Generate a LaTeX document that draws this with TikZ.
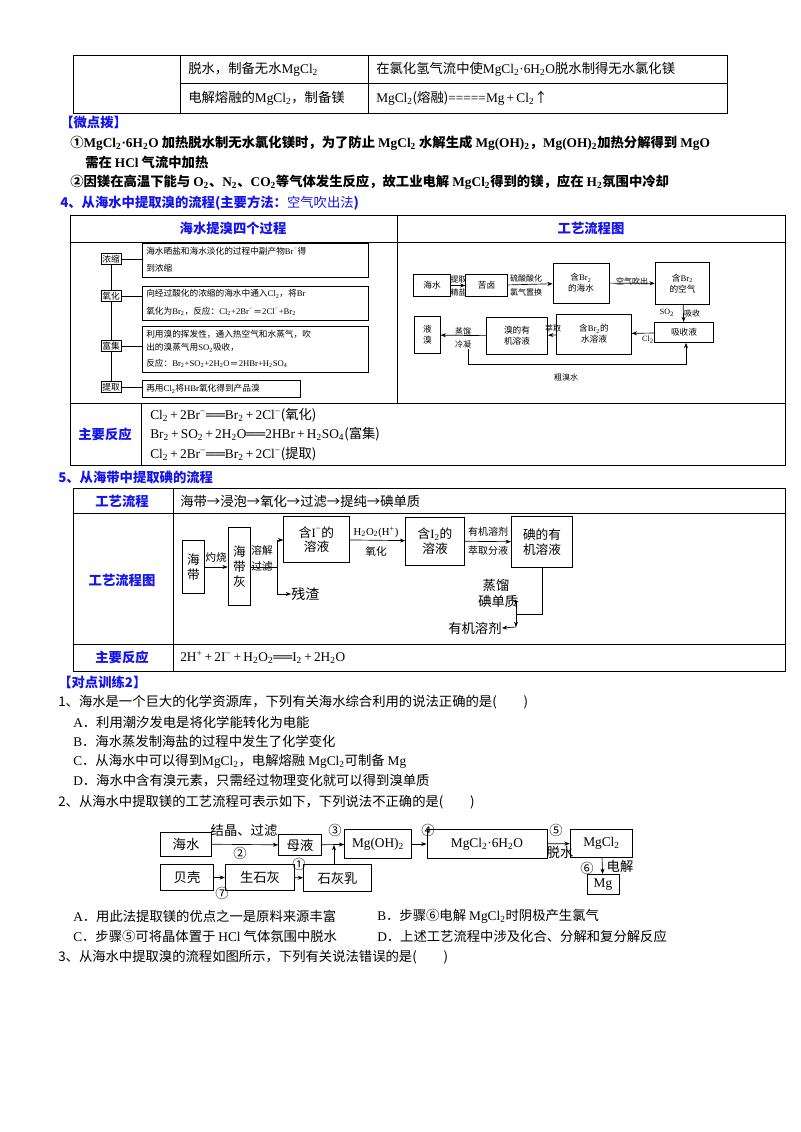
\documentclass[tikz,border=0pt]{standalone}
\usepackage{fontspec}
\setmainfont{Noto Sans CJK SC}
\newfontfamily\lt{Liberation Serif}
\usetikzlibrary{arrows.meta}
\newcommand\sub[1]{\textsubscript{#1}}
\newcommand\sups[1]{\textsuperscript{#1}}
\definecolor{bl}{RGB}{20,20,235}
\tikzset{
 t/.style={anchor=west,inner sep=0pt,font=\fontsize{10}{12}\selectfont},
 ts/.style={anchor=west,inner sep=0pt,font=\fontsize{6.5}{9}\selectfont},
 tc/.style={inner sep=0pt,font=\fontsize{6}{8}\selectfont},
 bx/.style={draw,line width=0.6pt,inner sep=1pt,font=\fontsize{6.5}{8}\selectfont,align=center},
 ib/.style={draw,line width=0.7pt,inner sep=1pt,font=\fontsize{9.5}{11}\selectfont,align=center},
 mb/.style={draw,line width=0.7pt,inner sep=1pt,font=\fontsize{10}{11}\selectfont,align=center},
 ar/.style={-{Stealth[length=4pt,width=3pt]},line width=0.5pt},
 tb/.style={line width=0.6pt},
 hd/.style={inner sep=0pt,font=\bfseries\fontsize{10}{12}\selectfont,text=bl},
}
\begin{document}
\begin{tikzpicture}[x=0.75pt,y=-0.75pt]
\fill[white] (0,0) rectangle (800,1132);
\useasboundingbox (0,0) rectangle (800,1132);
% top table
\draw[tb] (73,55) rectangle (727,113);
\draw[tb] (180,55)--(180,113) (368,55)--(368,113) (180,83)--(727,83);
\node[t] (a1) at (188,69) {脱水，制备无水{\lt MgCl\sub2}};
\node[t] (a2) at (376,69) {在氯化氢气流中使{\lt MgCl\sub2·6H\sub2O}脱水制得无水氯化镁};
\node[t] (a3) at (188,98) {电解熔融的{\lt MgCl\sub2}，制备镁};
\node[t] (a4) at (376,98) {{\lt MgCl\sub2}(熔融){\lt =====Mg\,+\,Cl\sub2}↑};
\node[t,font=\bfseries\fontsize{10}{12}\selectfont,text=bl] (w) at (60,122) {【微点拨】};
\node[t,font=\bfseries\fontsize{10}{12}\selectfont] (w1) at (70,143) {①{\lt MgCl\sub2·6H\sub2O} 加热脱水制无水氯化镁时，为了防止 {\lt MgCl\sub2} 水解生成 {\lt Mg(OH)\sub2}，{\lt Mg(OH)\sub2}加热分解得到 {\lt MgO}};
\node[t,font=\bfseries\fontsize{10}{12}\selectfont] (w2) at (85,162) {需在 {\lt HCl} 气流中加热};
\node[t,font=\bfseries\fontsize{10}{12}\selectfont] (w3) at (70,182) {②因镁在高温下能与 {\lt O\sub2}、{\lt N\sub2}、{\lt CO\sub2}等气体发生反应，故工业电解 {\lt MgCl\sub2}得到的镁，应在 {\lt H\sub2}氛围中冷却};
\node[t,font=\bfseries\fontsize{10}{12}\selectfont,text=bl] (s4) at (60,203) {4、从海水中提取溴的流程(主要方法：{\mdseries 空气吹出法})};
% bromine table
\draw[tb] (70,215) rectangle (785,465);
\draw[tb] (70,242)--(785,242) (397,215)--(397,403) (70,403)--(785,403) (141,403)--(141,465);
\node[hd] (h1) at (233,228) {海水提溴四个过程};
\node[hd] (h2) at (591,228) {工艺流程图};
% left part
\draw[line width=0.5pt] (111,259)--(111,387);
\node[bx,fill=white] (k1) at (111,259) {浓缩};
\node[bx,fill=white] (k2) at (111,296) {氧化};
\node[bx,fill=white] (k3) at (111,346) {富集};
\node[bx,fill=white] (k4) at (111,387) {提取};
\draw[line width=0.5pt] (142,243) rectangle (368,277) (142,286) rectangle (368,320) (142,326) rectangle (368,372) (142,380) rectangle (300,397);
\draw[line width=0.5pt] (k1.east)--(142,259) (k2.east)--(142,296) (k3.east)--(142,346) (k4.east)--(142,387);
\node[ts] (l1) at (146,251) {海水晒盐和海水淡化的过程中副产物{\lt Br\sups−}得};
\node[ts] (l1b) at (146,268) {到浓缩};
\node[ts] (l2) at (146,294) {向经过酸化的浓缩的海水中通入{\lt Cl\sub2}，将{\lt Br}};
\node[ts] (l2b) at (146,311) {氧化为{\lt Br\sub2}，反应：{\lt Cl\sub2+2Br\sups−\,═\,2Cl\sups−+Br\sub2}};
\node[ts] (l3) at (146,334) {利用溴的挥发性，通入热空气和水蒸气，吹};
\node[ts] (l3b) at (146,348) {出的溴蒸气用{\lt SO\sub2}吸收，};
\node[ts] (l3c) at (146,363) {反应：{\lt Br\sub2+SO\sub2+2H\sub2O\,═\,2HBr+H\sub2SO\sub4}};
\node[ts] (l4) at (146,389) {再用{\lt Cl\sub2}将{\lt HBr}氧化得到产品溴};
% right flow
\node[bx,minimum width=28,minimum height=17] (r1) at (432,285.5) {海水};
\node[bx,minimum width=31,minimum height=17] (r2) at (486.5,285.5) {苦卤};
\node[bx,minimum width=42,minimum height=30] (r3) at (581,283) {含{\lt Br\sub2}\\的海水};
\node[bx,minimum width=41,minimum height=31] (r4) at (682.5,283.5) {含{\lt Br\sub2}\\的空气};
\node[bx,minimum width=44,minimum height=15] (r5) at (684,332.5) {吸收液};
\node[bx,minimum width=56,minimum height=30] (r6) at (594,334) {含{\lt Br\sub2}的\\水溶液};
\node[bx,minimum width=46,minimum height=28] (r7) at (517,336) {溴的有\\机溶液};
\node[bx,minimum width=19,minimum height=28] (r8) at (427.5,335) {液\\溴};
\draw[ar] (r1)--(r2);
\draw[ar] (r2)--(r3);
\draw[ar] (r3)--(r4);
\draw[ar] (r4)--(r5);
\draw[ar] (r5)--(r6);
\draw[ar] (r6)--(r7);
\draw[ar] (r7)--(r8);
\coordinate (c1) at (468,364);
\coordinate (c2) at (686,364);
\draw[ar] (468,349)--(c1)--(c2)--(r5.south-|c2);
\node[tc] (q1) at (458.5,279) {提取};
\node[tc] (q2) at (458.5,292) {精盐};
\node[tc] (q3) at (526,278) {硫酸酸化};
\node[tc] (q4) at (526,292) {氯气置换};
\node[tc] (q5) at (632,281) {空气吹出};
\node[tc] (q6) at (667,313) {{\lt SO\sub2}};
\node[tc] (q7) at (692,313) {吸收};
\node[tc] (q8) at (648,340) {{\lt Cl\sub2}};
\node[tc] (q9) at (553,328) {萃取};
\node[tc] (q10) at (463,331) {蒸馏};
\node[tc] (q11) at (463,344) {冷凝};
\node[tc] (q12) at (566,377) {粗溴水};
\node[hd] (h3) at (105,434) {主要反应};
\node[t] (e1) at (150,415) {{\lt Cl\sub2\,+\,2Br\sups−══Br\sub2\,+\,2Cl\sups−}(氧化)};
\node[t] (e2) at (150,434) {{\lt Br\sub2\,+\,SO\sub2\,+\,2H\sub2O══2HBr\,+\,H\sub2SO\sub4}(富集)};
\node[t] (e3) at (150,454) {{\lt Cl\sub2\,+\,2Br\sups−══Br\sub2\,+\,2Cl\sups−}(提取)};
% section 5
\node[t,font=\bfseries\fontsize{10}{12}\selectfont,text=bl] (s5) at (58,477) {5、从海带中提取碘的流程};
\draw[tb] (73,488) rectangle (785,671);
\draw[tb] (173,488)--(173,671) (73,513)--(785,513) (73,644)--(785,644);
\node[hd] (h4) at (122,501) {工艺流程};
\node[hd] (h5) at (122,580) {工艺流程图};
\node[hd] (h6) at (122,657) {主要反应};
\node[t] (f0) at (180,501) {海带→浸泡→氧化→过滤→提纯→碘单质};
\node[t] (f1) at (180,657) {{\lt 2H\sups+\,+\,2I\sups−\,+\,H\sub2O\sub2══I\sub2\,+\,2H\sub2O}};
\node[ib,minimum width=17,minimum height=40] (i1) at (193.5,567) {海\\带};
\node[ib,minimum width=17,minimum height=59] (i2) at (239.5,566.5) {海\\带\\灰};
\node[ib,minimum width=49,minimum height=35] (i3) at (316.5,539.5) {含{\lt I\sups−}的\\溶液};
\node[ib,minimum width=44,minimum height=36] (i4) at (435,541) {含{\lt I\sub2}的\\溶液};
\node[ib,minimum width=46,minimum height=38] (i5) at (542,542) {碘的有\\机溶液};
\draw[ar] (i1.east|-0,567)--(i2.west|-0,567);
\draw[line width=0.5pt] (i2.east|-0,567)--(277,567);
\coordinate (j1) at (277,540);
\coordinate (j2) at (277,594);
\draw[ar] (j2)--(j1)--(i3.west|-j1);
\node[t,font=\fontsize{10.5}{12}\selectfont] (cz) at (291,594) {残渣};
\draw[ar] (j2)--(cz);
\draw[ar] (i3)--(i4);
\draw[ar] (i4)--(i5);
\coordinate (j3) at (542,614);
\coordinate (j4) at (516,614);
\node[t,font=\fontsize{10}{12}\selectfont] (dz) at (478,601) {碘单质};
\node[t,font=\fontsize{10}{12}\selectfont] (yj) at (448,628) {有机溶剂};
\draw[line width=0.5pt] (i5.south)--(j3)--(j4);
\draw[ar] (516,602)--(516,627);
\draw[ar] (516,602)--(dz.east);
\draw[ar] (516,627)--(yj.east);
\node[tc,font=\fontsize{8}{10}\selectfont] (g1) at (216,557) {灼烧};
\node[tc,font=\fontsize{8}{10}\selectfont] (g2) at (262,550) {溶解};
\node[tc,font=\fontsize{8}{10}\selectfont] (g3) at (262,566) {过滤};
\node[tc,font=\fontsize{8}{10}\selectfont] (g4) at (376,532) {{\lt H\sub2O\sub2(H\sups+)}};
\node[tc,font=\fontsize{8}{10}\selectfont] (g5) at (376,551) {氧化};
\node[tc,font=\fontsize{7.5}{10}\selectfont] (g6) at (488,532) {有机溶剂};
\node[tc,font=\fontsize{7.5}{10}\selectfont] (g7) at (488,551) {萃取分液};
\node[tc,font=\fontsize{10}{12}\selectfont] (g8) at (496,585) {蒸馏};
% training
\node[t,font=\bfseries\fontsize{10}{12}\selectfont,text=bl] (tt) at (58,682) {【对点训练2】};
\node[t] (p1) at (58,702) {1、海水是一个巨大的化学资源库，下列有关海水综合利用的说法正确的是(\qquad)};
\node[t] (p1a) at (73,722) {{\lt A}．利用潮汐发电是将化学能转化为电能};
\node[t] (p1b) at (73,741) {{\lt B}．海水蒸发制海盐的过程中发生了化学变化};
\node[t] (p1c) at (73,761) {{\lt C}．从海水中可以得到{\lt MgCl\sub2}，电解熔融 {\lt MgCl\sub2}可制备 {\lt Mg}};
\node[t] (p1d) at (73,781) {{\lt D}．海水中含有溴元素，只需经过物理变化就可以得到溴单质};
\node[t] (p2) at (58,802) {2、从海水中提取镁的工艺流程可表示如下，下列说法不正确的是(\qquad)};
\node[mb,minimum width=38,minimum height=18] (m1) at (186,844) {海水};
\node[mb,minimum width=32,minimum height=16] (m2) at (300,845) {母液};
\node[mb,minimum width=50,minimum height=22] (m3) at (378,844) {{\lt Mg(OH)\sub2}};
\node[mb,minimum width=90,minimum height=22] (m4) at (487,844) {{\lt MgCl\sub2·6H\sub2O}};
\node[mb,minimum width=47,minimum height=21] (m5) at (601.5,843.5) {{\lt MgCl\sub2}};
\node[mb,minimum width=24,minimum height=15] (m6) at (603,884.5) {{\lt Mg}};
\node[mb,minimum width=40,minimum height=19] (m7) at (187,877.5) {贝壳};
\node[mb,minimum width=52,minimum height=19] (m8) at (260,877.5) {生石灰};
\node[mb,minimum width=51,minimum height=20] (m9) at (337.5,878) {石灰乳};
\draw[ar] (m1)--(m2);
\draw[ar] (m2)--(m3);
\draw[ar] (m3)--(m4);
\draw[ar] (m4)--(m5);
\draw[ar] (m5)--(m6);
\draw[ar] (m7)--(m8);
\draw[ar] (m8)--(m9);
\draw[ar] (m9.north-|334,0)--(334,845);
\node[tc,font=\fontsize{10}{12}\selectfont] (n1) at (244,830) {结晶、过滤};
\node[tc,font=\fontsize{10}{12}\selectfont] (n2) at (240,853) {②};
\node[tc,font=\fontsize{10}{12}\selectfont] (n3) at (335,830) {③};
\node[tc,font=\fontsize{10}{12}\selectfont] (n4) at (299,864) {①};
\node[tc,font=\fontsize{10}{12}\selectfont] (n5) at (222,893) {⑦};
\node[tc,font=\fontsize{10}{12}\selectfont] (n6) at (428,830) {④};
\node[tc,font=\fontsize{10}{12}\selectfont] (n7) at (556,830) {⑤};
\node[tc,font=\fontsize{10}{12}\selectfont] (n8) at (560,852) {脱水};
\node[tc,font=\fontsize{10}{12}\selectfont] (n9) at (587,868) {⑥};
\node[tc,font=\fontsize{10}{12}\selectfont] (n10) at (620,866) {电解};
\node[t] (o1) at (73,916) {{\lt A}．用此法提取镁的优点之一是原料来源丰富};
\node[t] (o2) at (377,916) {{\lt B}．步骤⑥电解 {\lt MgCl\sub2}时阴极产生氯气};
\node[t] (o3) at (73,936) {{\lt C}．步骤⑤可将晶体置于 {\lt HCl} 气体氛围中脱水};
\node[t] (o4) at (377,936) {{\lt D}．上述工艺流程中涉及化合、分解和复分解反应};
\node[t] (p3) at (58,957) {3、从海水中提取溴的流程如图所示，下列有关说法错误的是(\qquad)};
\end{tikzpicture}
\end{document}
